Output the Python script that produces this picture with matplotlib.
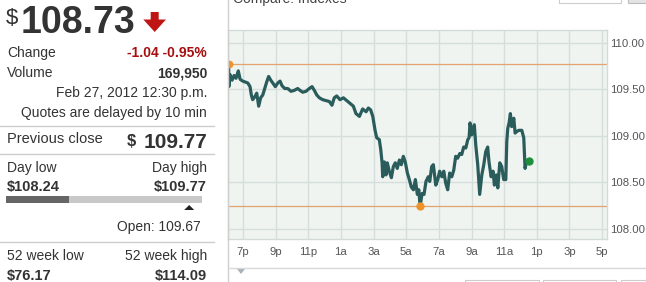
import matplotlib
matplotlib.use("Agg")
import matplotlib.pyplot as plt
from matplotlib.patches import Rectangle, Polygon
from matplotlib.lines import Line2D

plt.rcParams['font.family'] = ['Liberation Sans', 'DejaVu Sans']

# intraday trace, hours after 6 pm (Feb 26) -> price
hours = [0.12, 0.13, 0.20, 0.33, 0.45, 0.57, 0.71, 0.82, 0.98, 1.14, 1.29, 1.43, 1.51, 1.59,
         1.72, 1.84, 1.96, 2.08, 2.21, 2.33, 2.45, 2.57, 2.70, 2.82, 2.98, 3.13, 3.27, 3.39,
         3.56, 3.74, 3.94, 4.14, 4.35, 4.49, 4.66, 4.86, 5.06, 5.23, 5.37, 5.52, 5.68, 5.88,
         6.09, 6.29, 6.45, 6.59, 6.74, 6.94, 7.15, 7.35, 7.56, 7.76, 7.92, 8.13, 8.33, 8.54,
         8.68, 8.82, 8.95, 9.09, 9.19, 9.35, 9.44, 9.52, 9.56, 9.66, 9.76, 9.84, 9.96, 10.09,
         10.21, 10.33, 10.45, 10.58, 10.70, 10.82, 10.94, 11.07, 11.19, 11.31, 11.44, 11.56,
         11.68, 11.77, 11.85, 11.97, 12.09, 12.21, 12.35, 12.44, 12.56, 12.66, 12.81, 12.93,
         13.05, 13.18, 13.30, 13.42, 13.54, 13.66, 13.79, 13.91, 14.03, 14.15, 14.28, 14.40,
         14.52, 14.65, 14.77, 14.85, 14.91, 15.01, 15.09, 15.17, 15.26, 15.38, 15.50, 15.63,
         15.75, 15.87, 15.99, 16.07, 16.20, 16.32, 16.40, 16.52, 16.61, 16.73, 16.85, 16.97,
         17.10, 17.16, 17.22, 17.30, 17.38, 17.46, 17.59, 17.67, 17.79, 17.91, 18.08, 18.20,
         18.28, 18.36]
prices = [109.77, 109.53, 109.66, 109.60, 109.65, 109.62, 109.70, 109.61, 109.59, 109.58,
          109.57, 109.53, 109.44, 109.39, 109.42, 109.46, 109.32, 109.41, 109.44, 109.51,
          109.58, 109.64, 109.60, 109.57, 109.53, 109.57, 109.59, 109.54, 109.51, 109.51,
          109.48, 109.49, 109.51, 109.49, 109.47, 109.48, 109.51, 109.53, 109.49, 109.44,
          109.41, 109.39, 109.38, 109.37, 109.33, 109.41, 109.43, 109.39, 109.41, 109.38,
          109.35, 109.32, 109.24, 109.21, 109.29, 109.26, 109.30, 109.28, 109.21, 109.06,
          108.98, 108.96, 108.85, 108.71, 108.56, 108.72, 108.58, 108.71, 108.62, 108.55,
          108.67, 108.71, 108.65, 108.74, 108.69, 108.78, 108.72, 108.60, 108.53, 108.45,
          108.42, 108.53, 108.37, 108.42, 108.24, 108.38, 108.37, 108.51, 108.56, 108.51,
          108.67, 108.69, 108.47, 108.53, 108.62, 108.56, 108.62, 108.49, 108.42, 108.60,
          108.56, 108.63, 108.78, 108.76, 108.81, 108.80, 108.88, 108.87, 108.96, 108.98,
          109.14, 109.01, 109.06, 109.12, 108.90, 108.69, 108.37, 108.58, 108.69, 108.83,
          108.88, 108.72, 108.56, 108.62, 108.47, 108.58, 108.44, 108.71, 108.67, 108.53,
          108.53, 108.94, 109.08, 109.14, 109.24, 109.10, 109.19, 109.03, 109.05, 109.06,
          109.06, 108.98, 108.65, 108.71]

day_high, high_time = 109.77, 0.12
day_low, low_time = 108.24, 11.85
last_price, last_time = 108.73, 18.5
open_price = 109.67

x_ticks = [1, 3, 5, 7, 9, 11, 13, 15, 17, 19, 21, 23]
x_labels = ['7p', '9p', '11p', '1a', '3a', '5a', '7a', '9a', '11a', '1p', '3p', '5p']
y_ticks = [108.0, 108.5, 109.0, 109.5, 110.0]

W, H = 646, 282
fig = plt.figure(figsize=(W / 100, H / 100), dpi=100)


def px(x, y):
    return x / W, 1 - y / H


# ---- chart ----
ax = fig.add_axes([228 / W, 1 - 239 / H, (607 - 228) / W, (239 - 30) / H])
ax.set_facecolor('#eff4f1')
ax.plot(hours, prices, color='#2a5c5c', lw=2.3, solid_joinstyle='round', zorder=3)
ax.axhline(day_high, color='#e2a36e', lw=0.9, zorder=2)
ax.axhline(day_low, color='#e2a36e', lw=0.9, zorder=2)
ax.plot([high_time], [day_high], 'o', color='#f0922b', ms=4.5, zorder=4)
ax.plot([low_time], [day_low], 'o', color='#f0922b', ms=5, zorder=4)
ax.plot([last_time], [last_price], 'o', color='#1f8f3c', ms=5, zorder=4)

ax.set_xlim(0.08, 23.3)
ax.set_ylim(107.89, 110.14)
ax.set_xticks(x_ticks)
ax.set_xticklabels(x_labels)
ax.set_yticks(y_ticks)
ax.set_yticklabels([f'{v:.2f}' for v in y_ticks])
ax.yaxis.tick_right()
ax.tick_params(length=0, labelsize=8.2, colors='#555555')
ax.tick_params(axis='x', pad=6)
ax.tick_params(axis='y', pad=2)
ax.grid(True, color='#d5dedb', lw=1.0)
ax.set_axisbelow(True)
for s in ax.spines.values():
    s.set_color('#d3dbd8')
    s.set_linewidth(1.0)

# frame around chart area
fig.add_artist(Line2D([px(228, 0)[0]] * 2, [0, 1], color='#cfcfcf', lw=1.0))
fig.add_artist(Line2D([px(228, 0)[0], 1], [px(0, 268)[1]] * 2, color='#d8d8d8', lw=1.0))
fig.text(*px(233, 2.5), 'Compare: Indexes', fontsize=10, color='#444444', va='baseline')
fig.add_artist(Rectangle(px(559, 3), 62 / W, 5 / H, fill=False, ec='#cccccc', lw=0.8))
fig.add_artist(Rectangle(px(628, 3), 20 / W, 5 / H, fc='#e4e4e4', ec='#bbbbbb', lw=0.8))
for bx0, bx1 in [(465, 539), (543, 616), (621, 650)]:
    fig.add_artist(Rectangle(px(bx0, 290), (bx1 - bx0) / W, 10 / H, fill=False,
                             ec='#cccccc', lw=0.8))
fig.add_artist(Polygon([px(237, 269), px(245, 269), px(241, 274)], closed=True,
                       fc='#a9b2b8', ec='none'))

# ---- quote panel ----
dark = '#333333'
fig.text(*px(6, 24), '$', fontsize=16, color=dark, va='baseline')
fig.text(*px(21, 33), f'{last_price:.2f}', fontsize=27, fontweight='bold',
         color=dark, va='baseline')
fig.add_artist(Polygon([px(150.7, 12), px(158.7, 12), px(158.7, 19.5), px(166, 19.5),
                        px(154.7, 32), px(143.3, 19.5), px(150.7, 19.5)], closed=True,
                       fc='#c01515', ec='none'))

R = 207
fig.text(*px(7, 57), 'Change', fontsize=10, color=dark, va='baseline')
fig.text(*px(R, 57), '-1.04 -0.95%', fontsize=10, fontweight='bold', color='#a50f0f',
         ha='right', va='baseline')
fig.text(*px(7, 77), 'Volume', fontsize=10, color=dark, va='baseline')
fig.text(*px(R, 77), '169,950', fontsize=10, fontweight='bold', color=dark,
         ha='right', va='baseline')
fig.text(*px(R, 97), 'Feb 27, 2012 12:30 p.m.', fontsize=10, color=dark,
         ha='right', va='baseline')
fig.text(*px(R, 117), 'Quotes are delayed by 10 min', fontsize=10, color=dark,
         ha='right', va='baseline')


def hline(y, x0=0, x1=214):
    fig.add_artist(Line2D([px(x0, y)[0], px(x1, y)[0]], [px(x0, y)[1]] * 2,
                          color='#cccccc', lw=1.0))


hline(126)
fig.text(*px(7, 143), 'Previous close', fontsize=10.5, color=dark, va='baseline')
fig.text(*px(R, 148), f'{day_high:.2f}', fontsize=15, fontweight='bold', color=dark,
         ha='right', va='baseline')
fig.text(*px(127, 146), '$', fontsize=12, fontweight='bold', color=dark, va='baseline')
hline(154)

fig.text(*px(7, 172), 'Day low', fontsize=10, color=dark, va='baseline')
fig.text(*px(R, 172), 'Day high', fontsize=10, color=dark, ha='right', va='baseline')
fig.text(*px(7, 191), f'${day_low:.2f}', fontsize=10.5, fontweight='bold', color=dark,
         va='baseline')
fig.text(*px(R, 191), f'${day_high:.2f}', fontsize=10.5, fontweight='bold', color=dark,
         ha='right', va='baseline')

# day range bar
bar_x0, bar_x1 = 6, 202
frac = (last_price - day_low) / (day_high - day_low)
open_frac = (open_price - day_low) / (day_high - day_low)
fig.add_artist(Rectangle(px(bar_x0, 203), (bar_x1 - bar_x0) / W, 7 / H,
                         fc='#c8c8c8', ec='none'))
fig.add_artist(Rectangle(px(bar_x0, 203), frac * (bar_x1 - bar_x0) / W, 7 / H,
                         fc='#666666', ec='none'))
ox = bar_x0 + open_frac * (bar_x1 - bar_x0)
fig.add_artist(Polygon([px(ox - 5, 210), px(ox + 5, 210), px(ox, 205)], closed=True,
                       fc='#222222', ec='none'))
fig.text(*px(201, 231), f'Open: {open_price:.2f}', fontsize=10, color=dark,
         ha='right', va='baseline')
hline(242)

fig.text(*px(7, 260), '52 week low', fontsize=10, color=dark, va='baseline')
fig.text(*px(R, 260), '52 week high', fontsize=10, color=dark, ha='right', va='baseline')
fig.text(*px(7, 280), '$76.17', fontsize=10.5, fontweight='bold', color=dark,
         va='baseline')
fig.text(*px(R, 280), '$114.09', fontsize=10.5, fontweight='bold', color=dark,
         ha='right', va='baseline')

fig.savefig('out.png', dpi=100)
